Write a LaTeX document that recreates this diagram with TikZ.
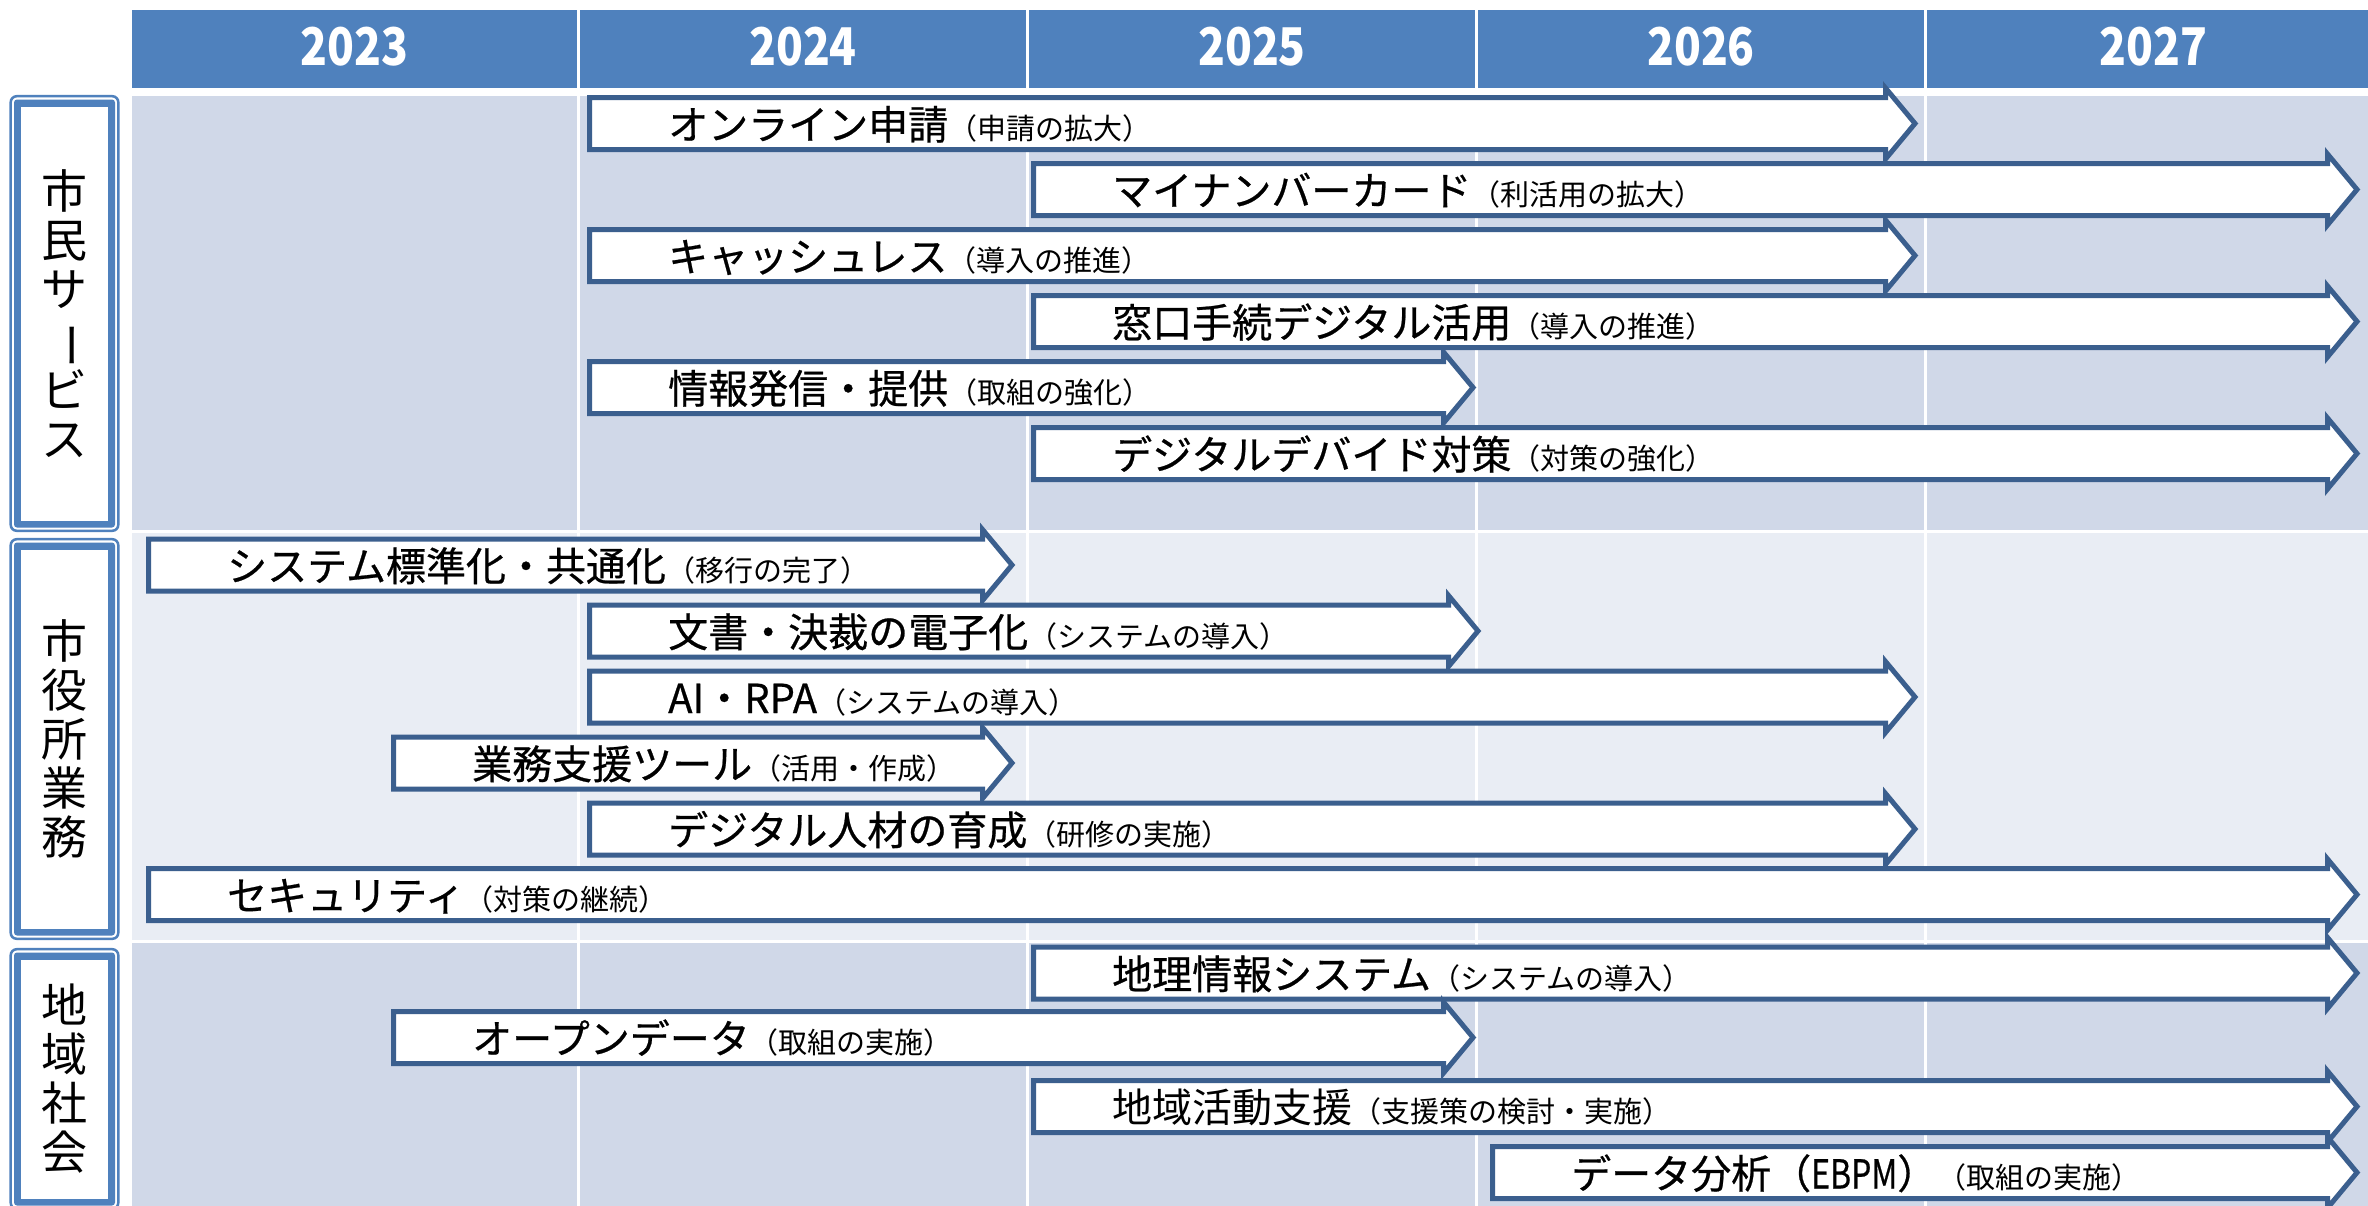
\documentclass[tikz,border=0pt]{standalone}
\usepackage{fontspec}
\usepackage{graphicx}
\newfontfamily\jp{Noto Sans CJK JP}
\newfontfamily\jpm[FakeBold=0.6]{Noto Sans CJK JP}
\definecolor{hdr}{HTML}{4F81BD}
\definecolor{bandA}{HTML}{D0D8E8}
\definecolor{bandB}{HTML}{E9EDF4}
\definecolor{arr}{HTML}{3B5F8E}
\definecolor{lbl}{HTML}{4F81BD}
\newcommand\mainsz{\fontsize{40}{42}\selectfont}
\newcommand\subsz{\fontsize{29}{31}\selectfont}
% name, x0, tip, centre y, main font, main text, sub text
\newcommand\garrow[7]{%
  \draw[arrowshape] (#2+2.5,#4-26) -- (#3-33.5,#4-26) -- (#3-33.5,#4-35.5)
     -- (#3-4,#4) -- (#3-33.5,#4+35.5) -- (#3-33.5,#4+26) -- (#2+2.5,#4+26) -- cycle;
  \node[lab, anchor=base west] (#1) at (#2+81,#4+16) {{#5\mainsz #6}{\jp\subsz #7}};
}
% name, y0, y1, text
\newcommand\lbox[4]{%
  \draw[lbl, line width=2.5pt, rounded corners=6pt, fill=white] (10.7,#2+1.2) rectangle (118.3,#3-1.2);
  \fill[lbl, rounded corners=3pt] (14,#2+4.5) rectangle (115,#3-4.5);
  \fill[white] (20.7,#2+11.5) rectangle (107.7,#3-11.5);
  \node[lab, align=center, font=\jp\fontsize{46}{49}\selectfont] (#1) at (64.5,{(#2+#3)/2}) {#4};
}
\begin{document}
\begin{tikzpicture}[x=1pt,y=-1pt, line join=miter,
  arrowshape/.style={draw=arr, line width=5pt, fill=white},
  lab/.style={inner sep=0pt, text=black, font=\jp},
  hdrtext/.style={text=white, font=\jp\bfseries\fontsize{52}{56}\selectfont, inner sep=0pt}]
\useasboundingbox (0,0) rectangle (2368,1205);
\clip (0,0) rectangle (2368,1205);
\fill[white] (0,0) rectangle (2368,1205);
% header and bands
\foreach \a/\b/\t in {132/577/2023, 580/1026/2024, 1029/1475/2025, 1478/1924/2026, 1927/2380/2027} {
  \fill[hdr] (\a,10) rectangle (\b,88);
  \node[hdrtext] (h\t) at ({(\a+\b)/2},47) {\scalebox{0.85}[1]{\t}};
  \fill[bandA] (\a,96) rectangle (\b,530);
  \fill[bandB] (\a,533) rectangle (\b,940);
  \fill[bandA] (\a,943) rectangle (\b,1215);
}
% left labels
\lbox{L1}{95}{532}{市\\民\\サ\\\rotatebox[origin=c]{-90}{ー}\\ビ\\ス}
\lbox{L2}{538}{940}{市\\役\\所\\業\\務}
\lbox{L3}{948}{1210}{地\\域\\社\\会}
% arrows
\garrow{a1}{587}{1919}{123.5}{\jpm}{オンライン申請}{（申請の拡大）}
\garrow{a2}{1031}{2361}{189.5}{\jpm}{マイナンバーカード}{（利活用の拡大）}
\garrow{a3}{587}{1919}{255.5}{\jpm}{キャッシュレス}{（導入の推進）}
\garrow{a4}{1031}{2361}{321.5}{\jpm}{窓口手続デジタル活用}{（導入の推進）}
\garrow{a5}{587}{1477}{387.5}{\jpm}{情報発信・提供}{（取組の強化）}
\garrow{a6}{1031}{2361}{453.5}{\jpm}{デジタルデバイド対策}{（対策の強化）}
\garrow{a7}{146}{1016}{565}{\jpm}{システム標準化・共通化}{（移行の完了）}
\garrow{a8}{587}{1482}{631}{\jpm}{文書・決裁の電子化}{（システムの導入）}
\garrow{a9}{587}{1919}{697}{\jpm}{AI・RPA}{（システムの導入）}
\garrow{a10}{391}{1016}{763}{\jpm}{業務支援ツール}{（活用・作成）}
\garrow{a11}{587}{1919}{829}{\jpm}{デジタル人材の育成}{（研修の実施）}
\garrow{a12}{146}{2361}{894.5}{\jpm}{セキュリティ}{（対策の継続）}
\garrow{a13}{1031}{2361}{973}{\jpm}{地理情報システム}{（システムの導入）}
\garrow{a14}{391}{1477}{1037.5}{\jpm}{オープンデータ}{（取組の実施）}
\garrow{a15}{1031}{2361}{1106.5}{\jp}{地域活動支援}{（支援策の検討・実施）}
\garrow{a16}{1490}{2361}{1172.5}{\jpm}{データ分析（\scalebox{0.8}[1]{EBPM}）}{（取組の実施）}
\end{tikzpicture}
\end{document}
